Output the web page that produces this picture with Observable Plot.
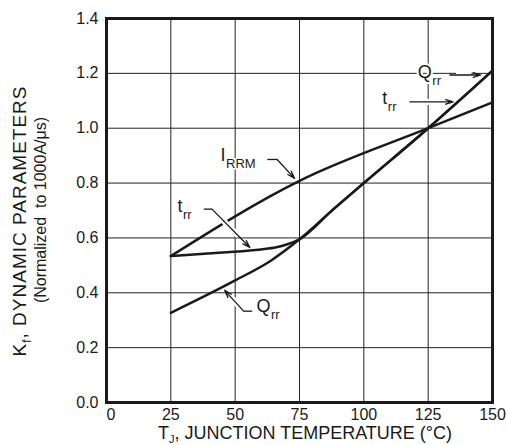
<!DOCTYPE html>
<html><head><meta charset="utf-8">
<script src="https://cdn.jsdelivr.net/npm/d3@7"></script>
<script src="https://cdn.jsdelivr.net/npm/@observablehq/plot@0.6"></script>
<style>
html,body{margin:0;padding:0;background:#fff;}
svg text{white-space:pre;}
</style></head><body><div id="chart"></div>
<script>
// ---- data ----
const xTicks = [0, 25, 50, 75, 100, 125, 150];
const yTicks = [0, 0.2, 0.4, 0.6, 0.8, 1.0, 1.2, 1.4];

const irrmT = [25, 75, 125, 150];
const irrmK = [0.534, 0.808, 1.0, 1.094];

const qrrT = [25, 50, 64, 75, 88, 100, 125, 150];
const qrrK = [0.327, 0.445, 0.518, 0.595, 0.703, 0.80, 1.0, 1.21];

const trrT = [25, 45, 60, 66, 70, 75, 88, 100, 125, 150];
const trrK = [0.534, 0.547, 0.558, 0.566, 0.576, 0.595, 0.703, 0.80, 1.0, 1.21];

// annotation labels (main letter + subscript), anchored in data coordinates
const labelMain = ["I", "t", "Q", "Q", "t"];
const labelSub = ["RRM", "rr", "rr", "rr", "rr"];
const labelT = [44.3, 27.6, 58.3, 121, 107.2];
const labelK = [0.88, 0.695, 0.330, 1.182, 1.09];

// leader lines: start, bend, tip (data coordinates)
const leaderStartT = [62.5, 37.8, 56.6, 133.4, 117.9];
const leaderStartK = [0.886, 0.705, 0.333, 1.194, 1.096];
const leaderBendT = [66.3, 41.0, 53.3, 133.4, 117.9];
const leaderBendK = [0.886, 0.705, 0.333, 1.194, 1.096];
const leaderTipT = [73.1, 55.7, 45.9, 145.4, 134.7];
const leaderTipK = [0.817, 0.565, 0.409, 1.194, 1.096];

// ---- build tables ----
const series = [
  ...irrmT.map((t, i) => ({s: "IRRM", t, k: irrmK[i]})),
  ...qrrT.map((t, i) => ({s: "Qrr", t, k: qrrK[i]})),
  ...trrT.map((t, i) => ({s: "trr", t, k: trrK[i]}))
];
const labels = labelMain.map((m, i) => ({main: m, sub: labelSub[i], t: labelT[i], k: labelK[i]}));
const leaders = leaderStartT.map((t, i) => ({
  t0: t, k0: leaderStartK[i], t1: leaderBendT[i], k1: leaderBendK[i], t2: leaderTipT[i], k2: leaderTipK[i]
}));
// white halo on the middle part of each diagonal (the gap where it crosses a curve)
const halos = leaders.map(d => ({
  ta: d.t1 + (d.t2 - d.t1) * 0.2, ka: d.k1 + (d.k2 - d.k1) * 0.2,
  tb: d.t1 + (d.t2 - d.t1) * 0.7, kb: d.k1 + (d.k2 - d.k1) * 0.7
}));

const FONT = "'Liberation Sans', Arial, Helvetica, sans-serif";
const INK = "#1a1a1a";
const ctx = document.createElement("canvas").getContext("2d");
function textWidth(s, size) { ctx.font = `${size}px ${FONT}`; return ctx.measureText(s).width; }

const MAIN = 18, SUB = 13;
const labelMarks = [];
labels.forEach(d => {
  labelMarks.push(Plot.text([d], {x: "t", y: "k", text: "main", textAnchor: "start", lineAnchor: "bottom",
    fontSize: MAIN, fill: INK, stroke: "white", strokeWidth: 4}));
  labelMarks.push(Plot.text([d], {x: "t", y: "k", text: "sub", textAnchor: "start", lineAnchor: "bottom",
    dx: textWidth(d.main, MAIN) + 0.5, dy: 7, fontSize: SUB, fill: INK, stroke: "white", strokeWidth: 3}));
});

const chart = Plot.plot({
  width: 507, height: 445,
  marginLeft: 106, marginRight: 15, marginTop: 18, marginBottom: 43,
  style: {fontFamily: FONT, fontSize: "16px", color: INK, background: "white", overflow: "visible"},
  x: {domain: [0, 150], ticks: xTicks, tickSize: 0, tickPadding: 6, label: null},
  y: {domain: [0, 1.4], ticks: yTicks, tickSize: 0, tickPadding: 8, tickFormat: d3.format(".1f"), label: null},
  marks: [
    Plot.gridX(xTicks.slice(1, -1), {stroke: "#222", strokeOpacity: 1, strokeWidth: 1}),
    Plot.gridY(yTicks.slice(1, -1), {stroke: "#222", strokeOpacity: 1, strokeWidth: 1}),
    ...labelMarks,
    Plot.line(series, {x: "t", y: "k", z: "s", stroke: INK, strokeWidth: 2.5, curve: "monotone-x"}),
    Plot.link(halos, {x1: "ta", y1: "ka", x2: "tb", y2: "kb", stroke: "white", strokeWidth: 6}),
    Plot.link(leaders, {x1: "t0", y1: "k0", x2: "t1", y2: "k1", stroke: INK, strokeWidth: 1.3}),
    Plot.arrow(leaders, {x1: "t1", y1: "k1", x2: "t2", y2: "k2", stroke: INK, strokeWidth: 1.3,
      headLength: 9, headAngle: 35, bend: 0}),
    Plot.frame({stroke: INK, strokeWidth: 3})
  ]
});

const svg = d3.select(chart);
// "0" tick label sits just right of the origin
svg.selectAll("[aria-label='x-axis tick label'] text").filter(d => d === 0).attr("text-anchor", "start");

// x-axis title with subscript
const xt = svg.append("text").attr("x", 305).attr("y", 439).attr("text-anchor", "middle")
  .attr("font-size", 18).attr("fill", INK).attr("font-family", FONT);
xt.append("tspan").text("T");
xt.append("tspan").attr("font-size", 11).attr("dy", 4).text("J");
xt.append("tspan").attr("dy", -4).text(", JUNCTION TEMPERATURE (°C)");

// y-axis title, two rotated lines
const y1 = svg.append("text").attr("transform", "translate(26,221) rotate(-90)").attr("text-anchor", "middle")
  .attr("font-size", 19).attr("letter-spacing", 1).attr("fill", INK).attr("font-family", FONT);
y1.append("tspan").text("K");
y1.append("tspan").attr("font-size", 12).attr("dy", 5).text("f");
y1.append("tspan").attr("dy", -5).text(", DYNAMIC PARAMETERS");
svg.append("text").attr("transform", "translate(46,210) rotate(-90)").attr("text-anchor", "middle")
  .attr("font-size", 16).attr("fill", INK).attr("font-family", FONT)
  .text("(Normalized  to 1000A/μs)");

document.getElementById("chart").appendChild(chart);
</script>
</body></html>
